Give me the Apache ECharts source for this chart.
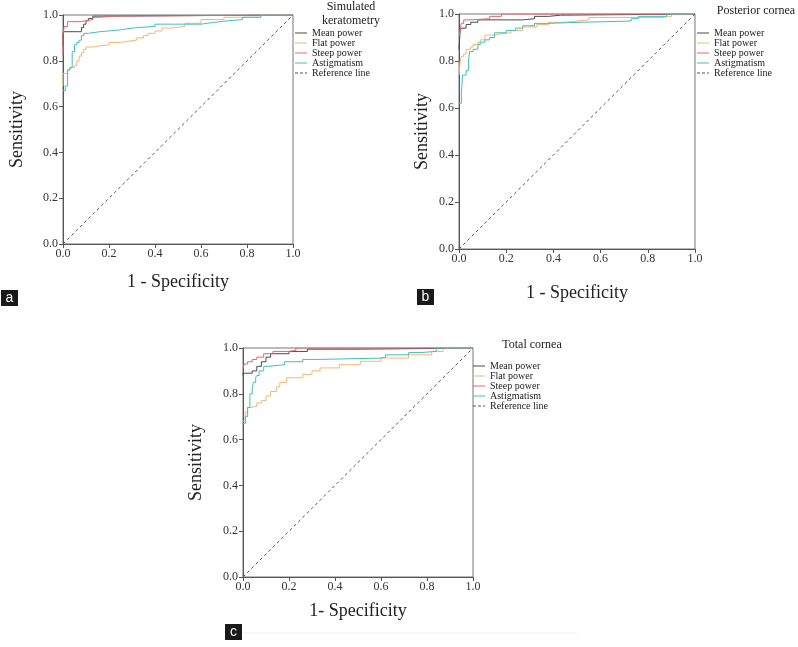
<!DOCTYPE html>
<html>
<head>
<meta charset="utf-8">
<script src="https://cdn.jsdelivr.net/npm/echarts@6/dist/echarts.min.js"></script>
<style>
  html, body { margin: 0; padding: 0; background: #fff; }
  #chart { width: 798px; height: 647px; }
</style>
</head>
<body>
<div id="chart"></div>
<script>
// curve names (legend order)
const seriesNames = ['Mean power', 'Flat power', 'Steep power', 'Astigmatism'];
const tickLabels = ['0.0', '0.2', '0.4', '0.6', '0.8', '1.0'];

// ROC corner points [1 - specificity, sensitivity]
// a: simulated keratometry
const aMean = [[0,0.86],[0,0.927],[0.08,0.945],[0.09,0.96],[0.1,0.975],[0.11,0.985],[0.13,0.995],[0.15,1],[1,1]];
const aFlat = [[0,0.69],[0,0.745],[0.02,0.76],[0.03,0.77],[0.05,0.78],[0.06,0.80],[0.07,0.82],[0.08,0.835],[0.09,0.85],[0.1,0.86],[0.13,0.865],[0.16,0.87],[0.2,0.88],[0.25,0.885],[0.28,0.89],[0.32,0.9],[0.35,0.91],[0.37,0.92],[0.4,0.93],[0.43,0.943],[0.47,0.95],[0.53,0.964],[0.6,0.98],[0.7,0.99],[0.86,1],[1,1]];
const aSteep = [[0,0.825],[0,0.913],[0.005,0.95],[0.02,0.971],[0.08,0.975],[0.1,0.98],[0.13,0.99],[0.16,0.995],[0.22,1],[1,1]];
const aAstig = [[0,0.67],[0.01,0.69],[0.02,0.76],[0.03,0.77],[0.04,0.84],[0.05,0.87],[0.06,0.88],[0.07,0.89],[0.08,0.91],[0.09,0.92],[0.11,0.927],[0.16,0.935],[0.25,0.94],[0.28,0.945],[0.32,0.95],[0.4,0.96],[0.6,0.967],[0.65,0.975],[0.72,0.98],[0.78,0.99],[0.86,1],[1,1]];
// b: posterior cornea
const bMean = [[0,0.85],[0.005,0.93],[0.01,0.94],[0.03,0.955],[0.05,0.965],[0.08,0.975],[0.27,0.98],[0.32,0.99],[0.38,0.995],[0.43,1],[1,1]];
const bFlat = [[0,0.74],[0.005,0.8],[0.01,0.82],[0.02,0.83],[0.03,0.85],[0.05,0.86],[0.06,0.87],[0.08,0.88],[0.09,0.89],[0.11,0.91],[0.15,0.915],[0.17,0.92],[0.22,0.93],[0.27,0.945],[0.33,0.955],[0.38,0.965],[0.45,0.97],[0.5,0.975],[0.55,0.985],[0.86,0.99],[0.9,1],[1,1]];
const bSteep = [[0,0.9],[0.005,0.935],[0.01,0.96],[0.02,0.975],[0.05,0.98],[0.13,0.99],[0.18,1],[1,1]];
const bAstig = [[0,0.62],[0.01,0.66],[0.015,0.74],[0.03,0.76],[0.04,0.8],[0.045,0.84],[0.06,0.85],[0.08,0.87],[0.09,0.88],[0.11,0.89],[0.13,0.9],[0.15,0.92],[0.2,0.93],[0.24,0.94],[0.27,0.95],[0.32,0.96],[0.38,0.965],[0.52,0.97],[0.73,0.98],[0.76,0.99],[0.88,1],[1,1]];
// c: total cornea
const cMean = [[0,0.88],[0,0.89],[0.04,0.9],[0.06,0.92],[0.08,0.94],[0.1,0.96],[0.12,0.975],[0.2,0.985],[0.28,0.995],[0.52,1],[1,1]];
const cFlat = [[0,0.68],[0.01,0.72],[0.02,0.74],[0.03,0.745],[0.06,0.76],[0.08,0.77],[0.1,0.79],[0.12,0.81],[0.145,0.83],[0.16,0.85],[0.19,0.87],[0.26,0.885],[0.3,0.9],[0.335,0.913],[0.42,0.927],[0.51,0.942],[0.6,0.956],[0.72,0.97],[0.82,0.985],[0.87,1],[1,1]];
const cSteep = [[0,0.91],[0.005,0.93],[0.02,0.94],[0.04,0.95],[0.06,0.96],[0.09,0.975],[0.13,0.985],[0.2,0.99],[0.23,1],[1,1]];
const cAstig = [[0,0.67],[0.01,0.7],[0.02,0.74],[0.03,0.8],[0.04,0.82],[0.045,0.85],[0.055,0.87],[0.06,0.88],[0.07,0.9],[0.09,0.92],[0.11,0.927],[0.18,0.94],[0.26,0.95],[0.33,0.956],[0.6,0.96],[0.62,0.97],[0.72,0.98],[0.77,0.985],[0.84,1],[1,1]];
const refLine = [[0,0],[1,1]];

const FONT = '"Liberation Serif", "DejaVu Serif", serif';
const colors = ['#4a4a4a', '#f5b673', '#e8646c', '#3fbfbf'];
const refColor = '#555';

// panel layout
const panels = [
  { grid: { left: 63, top: 15, width: 230, height: 229 }, curves: [aMean, aFlat, aSteep, aAstig], xName: '1 - Specificity', xGap: 29, yGap: 37,
    legend: { left: 295, top: 28 } },
  { grid: { left: 459, top: 14, width: 236, height: 235 }, curves: [bMean, bFlat, bSteep, bAstig], xName: '1 - Specificity', xGap: 35, yGap: 28,
    legend: { left: 697, top: 28 } },
  { grid: { left: 243, top: 348, width: 230, height: 229 }, curves: [cMean, cFlat, cSteep, cAstig], xName: '1- Specificity', xGap: 25, yGap: 38,
    legend: { left: 473, top: 361 } }
];

const axisCommon = {
  type: 'value', min: 0, max: 1, interval: 0.2,
  axisLine: { show: true, lineStyle: { color: '#555', width: 1 } },
  axisTick: { show: true, length: 4, lineStyle: { color: '#555' } },
  splitLine: { show: false },
  nameLocation: 'middle',
  nameTextStyle: { fontFamily: FONT, fontSize: 18, color: '#222' }
};

// legend icons: plain strokes, dashed one for the reference line
const solidIcon = 'rect';
const dashIcon = 'path://M0,0h3v1h-3z M5,0h3v1h-3z M10,0h2v1h-2z';

const grids = [], xAxes = [], yAxes = [], series = [], legends = [];
panels.forEach((p, i) => {
  grids.push(Object.assign({ show: true, borderColor: '#777', borderWidth: 1, backgroundColor: 'transparent' }, p.grid));
  xAxes.push(Object.assign({}, axisCommon, {
    gridIndex: i, position: 'bottom', name: p.xName, nameGap: p.xGap,
    axisLabel: { margin: 4, fontFamily: FONT, fontSize: 12, color: '#333', formatter: v => tickLabels[Math.round(v * 5)] }
  }));
  yAxes.push(Object.assign({}, axisCommon, {
    gridIndex: i, position: 'left', name: 'Sensitivity', nameGap: p.yGap,
    axisLabel: { margin: 5, fontFamily: FONT, fontSize: 12, color: '#333', formatter: v => tickLabels[Math.round(v * 5)] }
  }));
  p.curves.forEach((d, k) => {
    series.push({
      name: seriesNames[k], type: 'line', xAxisIndex: i, yAxisIndex: i,
      data: d, step: 'end', symbol: 'none', silent: true,
      lineStyle: { color: colors[k], width: 1 }, itemStyle: { color: colors[k] }
    });
  });
  series.push({
    name: 'Reference line', type: 'line', xAxisIndex: i, yAxisIndex: i,
    data: refLine, symbol: 'none', silent: true,
    lineStyle: { color: refColor, width: 1, type: [3, 3] }, itemStyle: { color: refColor }
  });
  legends.push({
    orient: 'vertical', left: p.legend.left, top: p.legend.top, padding: 0,
    itemWidth: 12, itemHeight: 1, itemGap: 0, selectedMode: false,
    data: seriesNames.map(n => ({ name: n, icon: solidIcon })).concat([{ name: 'Reference line', icon: dashIcon }]),
    textStyle: { fontFamily: FONT, fontSize: 10, lineHeight: 8, color: '#222', padding: 0 }
  });
});

// panel headings and letter tags
function heading(text, x, y) {
  return { type: 'text', x: x, y: y, style: { text: text, fontFamily: FONT, fontSize: 12, lineHeight: 14, fill: '#222', align: 'center', verticalAlign: 'top' } };
}
function tag(letter, x, y) {
  return { type: 'group', x: x, y: y, children: [
    { type: 'rect', shape: { x: 0, y: 0, width: 17, height: 16 }, style: { fill: '#1a1a1a' } },
    { type: 'text', x: 8.5, y: 8, style: { text: letter, fontFamily: 'Liberation Sans, Arial, sans-serif', fontSize: 14, fill: '#fff', align: 'center', verticalAlign: 'middle' } }
  ] };
}

const chart = echarts.init(document.getElementById('chart'), null, { renderer: 'canvas' });
chart.setOption({
  animation: false,
  backgroundColor: '#fff',
  grid: grids,
  xAxis: xAxes,
  yAxis: yAxes,
  legend: legends,
  series: series,
  graphic: [
    heading('Simulated\nkeratometry', 351, 0),
    heading('Posterior cornea', 756, 4),
    heading('Total cornea', 532, 338),
    tag('a', 1, 290),
    tag('b', 417, 289),
    tag('c', 225, 624),
    { type: 'line', shape: { x1: 243, y1: 633, x2: 577, y2: 633 }, style: { stroke: '#f0f0f0', lineWidth: 1 } }
  ]
});
</script>
</body>
</html>
